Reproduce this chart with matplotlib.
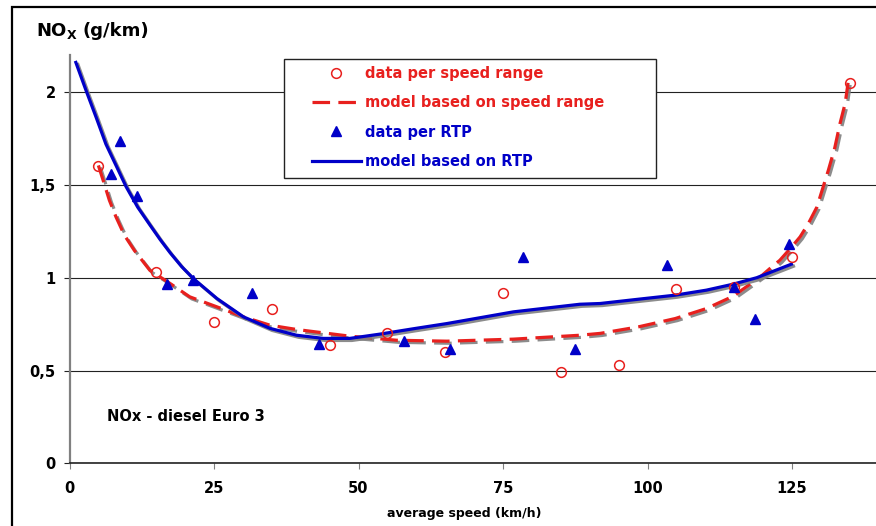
import matplotlib
matplotlib.use("Agg")
import matplotlib.pyplot as plt
import matplotlib.patheffects as pe
from matplotlib.lines import Line2D
from matplotlib.patches import Rectangle

# measured points, per speed range
speed_range_x = [5, 15, 25, 35, 45, 55, 65, 75, 85, 95, 105, 115, 125, 135]
speed_range_nox = [1.60, 1.03, 0.76, 0.83, 0.64, 0.70, 0.60, 0.92, 0.49, 0.53, 0.94, 0.95, 1.11, 2.05]

# measured points, per real-world trip pattern
rtp_x = [7.1, 8.7, 11.7, 16.9, 21.4, 31.6, 43.2, 57.9, 65.8, 78.4, 87.5, 103.3, 115.0, 118.6, 124.4]
rtp_nox = [1.56, 1.735, 1.44, 0.965, 0.99, 0.92, 0.645, 0.66, 0.615, 1.11, 0.615, 1.07, 0.95, 0.78, 1.18]

# fitted model curves
model_range_x = [5, 6.0, 6.9, 8.05, 9.5, 11.2, 13.9, 17.4, 20.8, 25.5, 30.1, 34.7, 39.3, 43.9,
                 48.5, 56.6, 65.3, 76.8, 88.3, 91.8, 98.4, 104.8, 110.2, 114.8, 119.5, 121.2,
                 122.9, 124.7, 126.4, 127.8, 129.3, 130.4, 131.3, 132.4, 133.3, 134.2, 134.7]
model_range_nox = [1.605, 1.507, 1.417, 1.327, 1.229, 1.148, 1.04, 0.969, 0.897, 0.843, 0.789,
                   0.744, 0.721, 0.703, 0.685, 0.663, 0.658, 0.669, 0.69, 0.70, 0.735, 0.78,
                   0.834, 0.90, 1.004, 1.05, 1.094, 1.157, 1.22, 1.29, 1.38, 1.49, 1.58, 1.70,
                   1.83, 1.94, 2.05]

model_rtp_x = [1.1, 2.85, 4.6, 6.3, 8.05, 9.8, 11.8, 13.9, 15.7, 17.4, 19.4, 21.4, 25.5, 30.1,
               34.7, 39.3, 43.9, 48.5, 53.7, 59.5, 65.3, 76.8, 88.3, 91.8, 98.4, 104.8, 110.2,
               114.8, 118.9, 124.9]
model_rtp_nox = [2.16, 2.01, 1.865, 1.72, 1.605, 1.49, 1.38, 1.285, 1.205, 1.135, 1.06, 0.996,
                 0.888, 0.789, 0.727, 0.69, 0.673, 0.673, 0.696, 0.725, 0.753, 0.816, 0.857,
                 0.861, 0.884, 0.906, 0.933, 0.965, 1.00, 1.073]

x_ticks = [0, 25, 50, 75, 100, 125]
y_ticks = [0, 0.5, 1, 1.5, 2]
y_tick_labels = ["0", "0,5", "1", "1,5", "2"]

RED = "#e8201e"
BLUE = "#0000c8"
W, H = 876, 526

fig = plt.figure(figsize=(W / 100, H / 100), dpi=100)
ax = fig.add_axes([69.5 / W, 1 - 463.3 / H, 809.2 / W, 408.3 / H])
ax.set_xlim(0, 140)
ax.set_ylim(0, 2.2)

shadow = [pe.SimpleLineShadow(offset=(1.5, -1.5), shadow_color="#808080", alpha=0.9), pe.Normal()]

ax.plot(model_range_x, model_range_nox, color=RED, lw=2.3, dashes=(5.5, 2.6),
        path_effects=shadow, zorder=3)
ax.plot(model_rtp_x, model_rtp_nox, color=BLUE, lw=2.3, path_effects=shadow, zorder=3)
ax.plot(speed_range_x, speed_range_nox, ls="none", marker="o", ms=7, mfc="none",
        mec=RED, mew=1.1, zorder=4)
ax.plot(rtp_x, rtp_nox, ls="none", marker="^", ms=7.5, color=BLUE, zorder=4)

ax.set_yticks(y_ticks)
ax.set_yticklabels(y_tick_labels)
ax.set_xticks(x_ticks)
ax.grid(axis="y", color="#222222", lw=0.8)
ax.set_axisbelow(True)

for side in ("top", "right"):
    ax.spines[side].set_visible(False)
ax.spines["left"].set_color("#808080")
ax.spines["left"].set_linewidth(1.6)
ax.spines["bottom"].set_color("#222222")
ax.spines["bottom"].set_linewidth(1.2)

ax.tick_params(axis="y", length=4, width=0.8, color="#222222", pad=6, labelsize=10.5)
ax.tick_params(axis="x", length=4, width=0.8, color="#808080", pad=9, labelsize=10.5)
for lbl in ax.get_xticklabels() + ax.get_yticklabels():
    lbl.set_fontweight("bold")

ax.set_xlabel("average speed (km/h)", fontsize=9, fontweight="bold")
ax.xaxis.set_label_coords((464.5 - 69.5) / 809.2, -(507 - 463.3) / 408.3)

ax.text(6.5, 0.25, "NOx - diesel Euro 3", fontsize=10.5, fontweight="bold", va="center")

# axis title with subscript
fig.text(36 / W, 1 - 36 / H, "NO", fontsize=13, fontweight="bold", va="baseline")
fig.text(67 / W, 1 - 39 / H, "X", fontsize=9, fontweight="bold", va="baseline")
fig.text(83 / W, 1 - 36 / H, "(g/km)", fontsize=13, fontweight="bold", va="baseline")

# legend box
ax.add_patch(Rectangle((284 / W, 1 - 178 / H), 372 / W, 119 / H, transform=fig.transFigure,
                       facecolor="white", edgecolor="#222222", lw=1.0, zorder=2.5))
handles = [
    Line2D([], [], ls="none", marker="o", ms=7, mfc="none", mec=RED, mew=1.1),
    Line2D([], [], color=RED, lw=2.3, dashes=(5.5, 2.6)),
    Line2D([], [], ls="none", marker="^", ms=7.5, color=BLUE),
    Line2D([], [], color=BLUE, lw=2.3),
]
labels = ["data per speed range", "model based on speed range", "data per RTP", "model based on RTP"]
leg = ax.legend(handles, labels, loc="upper left", bbox_to_anchor=(312 / W, 1 - 66 / H),
                bbox_transform=fig.transFigure, frameon=False, borderpad=0, borderaxespad=0,
                handlelength=3.35, handletextpad=0.27, labelspacing=0.98, numpoints=1,
                prop={"size": 10.5, "weight": "bold"}, labelcolor=[RED, RED, BLUE, BLUE])
leg.set_zorder(5)

# outer chart frame, running off the right and bottom edges
fig.patches.append(Rectangle((12 / W, -0.05), 1.2, 1 - 7 / H + 0.05, transform=fig.transFigure,
                             facecolor="none", edgecolor="black", lw=1.6, zorder=0))

fig.savefig("out.png", dpi=100)
